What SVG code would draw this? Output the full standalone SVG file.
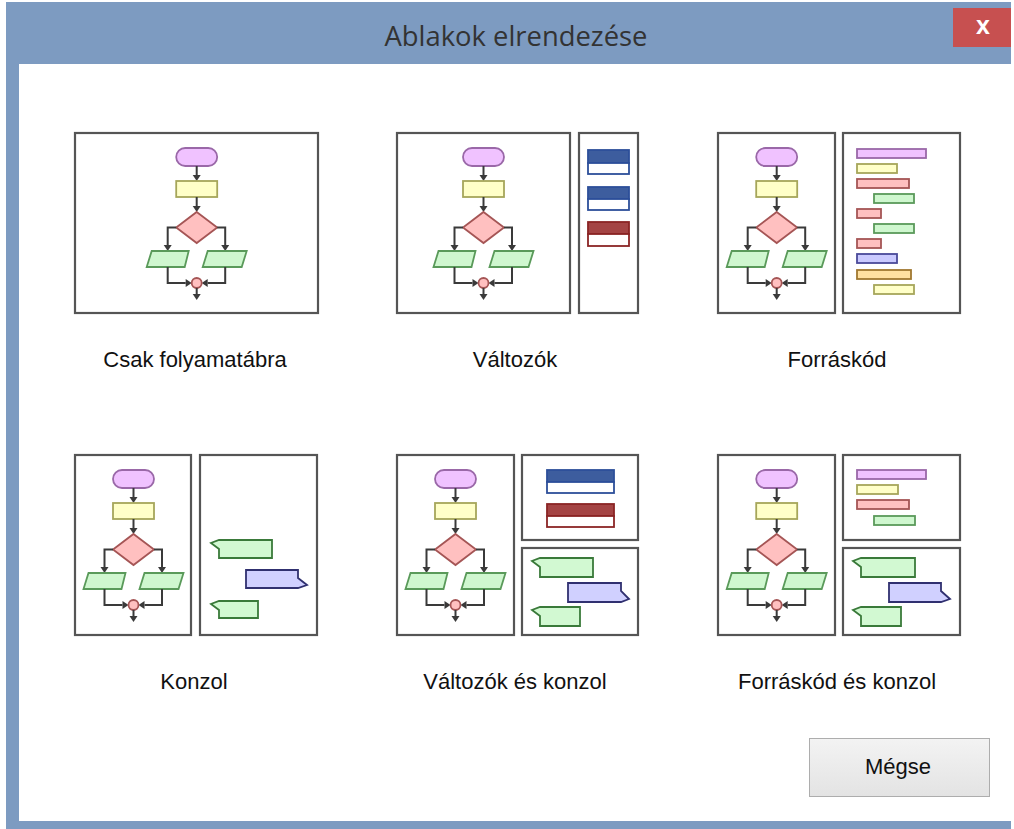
<svg xmlns="http://www.w3.org/2000/svg" xmlns:xlink="http://www.w3.org/1999/xlink" width="1014" height="829" viewBox="0 0 1014 829">
<style>
.frame{fill:#fff;stroke:#555;stroke-width:2.2}
.ln{fill:none;stroke:#3a3a3a;stroke-width:2}
.hd{fill:#3a3a3a}
.pu{fill:#f0c2ff;stroke:#9a68a8;stroke-width:1.8}
.ye{fill:#ffffc8;stroke:#a6a65a;stroke-width:1.8}
.re{fill:#ffc0c0;stroke:#a55555;stroke-width:1.8}
.gr{fill:#cff7cf;stroke:#5a9a5a;stroke-width:1.8}
.la{fill:#cacaff;stroke:#4a4a9a;stroke-width:1.8}
.or{fill:#ffe0a0;stroke:#a07830;stroke-width:1.8}
.bgr{fill:#d2f9d2;stroke:#3a7a3a;stroke-width:1.8}
.bbl{fill:#d0d0ff;stroke:#303070;stroke-width:1.8}
.vb{fill:#fff;stroke:#2d4f9a;stroke-width:1.8}
.vbh{fill:#3d5d9e;stroke:#2d4f9a;stroke-width:1.8}
.vr{fill:#fff;stroke:#8b2525;stroke-width:1.8}
.vrh{fill:#a44444;stroke:#8b2525;stroke-width:1.8}
.lbl{font-family:"Liberation Sans",Arial,sans-serif;font-size:22px;fill:#111;text-anchor:middle}
</style>
<defs>
<linearGradient id="btn" x1="0" y1="0" x2="0" y2="1">
<stop offset="0" stop-color="#f3f3f3"/><stop offset="1" stop-color="#e3e3e3"/>
</linearGradient>
<g id="fc">
<rect class="pu" x="-20.5" y="15" width="41" height="18" rx="9"/>
<line class="ln" x1="0" y1="33" x2="0" y2="43"/><polygon class="hd" points="-4,42 4,42 0,48"/>
<rect class="ye" x="-20.5" y="48" width="41" height="16"/>
<line class="ln" x1="0" y1="64" x2="0" y2="74"/><polygon class="hd" points="-4,73 4,73 0,79"/>
<polygon class="re" points="0,79 20.5,94.5 0,110 -20.5,94.5"/>
<polyline class="ln" points="-20.5,94.5 -29,94.5 -29,113"/><polygon class="hd" points="-33,112 -25,112 -29,118"/>
<polyline class="ln" points="20.5,94.5 28.5,94.5 28.5,113"/><polygon class="hd" points="24.5,112 32.5,112 28.5,118"/>
<polygon class="gr" points="-45,118 -8,118 -12,134 -50,134"/>
<polygon class="gr" points="11,118 50,118 45,134 6,134"/>
<polyline class="ln" points="-29,134 -29,150 -11,150"/><polygon class="hd" points="-11,146 -11,154 -5,150"/>
<polyline class="ln" points="28.5,134 28.5,150 11,150"/><polygon class="hd" points="11,146 11,154 5,150"/>
<circle class="re" cx="0" cy="150" r="5"/>
<line class="ln" x1="0" y1="155" x2="0" y2="162"/><polygon class="hd" points="-4,161 4,161 0,167"/>
</g>
</defs>

<rect width="1014" height="829" fill="#fff"/>
<g id="window">
<rect x="6" y="2" width="1005" height="827" fill="#7d9bc1"/>
<rect x="19" y="64" width="995" height="757" fill="#fff"/>
<text x="516" y="46" font-family="'Open Sans','Liberation Sans',sans-serif" font-size="27" fill="#333" text-anchor="middle" textLength="263" lengthAdjust="spacingAndGlyphs">Ablakok elrendezése</text>
<rect x="953" y="8" width="58" height="39" fill="#c75050"/>
<text x="983" y="34" font-family="'Liberation Sans',Arial,sans-serif" font-size="25" font-weight="bold" fill="#fff" text-anchor="middle">x</text>
</g>

<g id="opt-flowchart">
<rect class="frame" x="75" y="133" width="243" height="180"/>
<use xlink:href="#fc" transform="translate(196.7,133)"/>
<text class="lbl" x="195" y="367">Csak folyamatábra</text>
</g>

<g id="opt-variables">
<rect class="frame" x="397" y="133" width="173" height="180"/>
<use xlink:href="#fc" transform="translate(483.5,133)"/>
<rect class="frame" x="579" y="133" width="59" height="180"/>
<rect class="vbh" x="588" y="150" width="41" height="13"/><rect class="vb" x="588" y="163" width="41" height="11"/>
<rect class="vbh" x="588" y="187" width="41" height="12"/><rect class="vb" x="588" y="199" width="41" height="11"/>
<rect class="vrh" x="588" y="222" width="41" height="12"/><rect class="vr" x="588" y="234" width="41" height="12"/>
<text class="lbl" x="515" y="367">Változók</text>
</g>

<g id="opt-source">
<rect class="frame" x="718" y="133" width="117" height="180"/>
<use xlink:href="#fc" transform="translate(776.7,133)"/>
<rect class="frame" x="843" y="133" width="117" height="180"/>
<rect class="pu" x="857" y="149" width="69" height="9"/>
<rect class="ye" x="857" y="164" width="40" height="9"/>
<rect class="re" x="857" y="179" width="52" height="9"/>
<rect class="gr" x="874" y="194" width="40" height="9"/>
<rect class="re" x="857" y="209" width="24" height="9"/>
<rect class="gr" x="874" y="224" width="40" height="9"/>
<rect class="re" x="857" y="239" width="24" height="9"/>
<rect class="la" x="857" y="254" width="40" height="9"/>
<rect class="or" x="857" y="270" width="54" height="9"/>
<rect class="ye" x="874" y="285" width="40" height="9"/>
<text class="lbl" x="837" y="367">Forráskód</text>
</g>

<g id="opt-console">
<rect class="frame" x="75" y="455" width="116" height="180"/>
<use xlink:href="#fc" transform="translate(133.5,455)"/>
<rect class="frame" x="200" y="455" width="117" height="180"/>
<path class="bgr" d="M219,540 H272 V558 H219 V549 L211,543 Z"/>
<path class="bbl" d="M246,570 H298 V578 L307,585 L298,588 H246 Z"/>
<path class="bgr" d="M219,601 H258 V618 H219 V610 L211,604 Z"/>
<text class="lbl" x="194" y="689">Konzol</text>
</g>

<g id="opt-variables-console">
<rect class="frame" x="397" y="455" width="117" height="180"/>
<use xlink:href="#fc" transform="translate(455.5,455)"/>
<rect class="frame" x="522" y="455" width="116" height="85"/>
<rect class="vbh" x="547" y="470" width="67" height="12"/><rect class="vb" x="547" y="482" width="67" height="11"/>
<rect class="vrh" x="547" y="504" width="67" height="12"/><rect class="vr" x="547" y="516" width="67" height="11"/>
<rect class="frame" x="522" y="548" width="116" height="87"/>
<path class="bgr" d="M540,558 H593 V577 H540 V567 L532,561 Z"/>
<path class="bbl" d="M568,583 H621 V591 L629,599 L621,602 H568 Z"/>
<path class="bgr" d="M540,607 H580 V626 H540 V616 L532,610 Z"/>
<text class="lbl" x="515" y="689">Változók és konzol</text>
</g>

<g id="opt-source-console">
<rect class="frame" x="718" y="455" width="117" height="180"/>
<use xlink:href="#fc" transform="translate(776.7,455)"/>
<rect class="frame" x="843" y="455" width="117" height="85"/>
<rect class="pu" x="857" y="470" width="69" height="9"/>
<rect class="ye" x="857" y="485" width="41" height="9"/>
<rect class="re" x="857" y="500" width="52" height="9"/>
<rect class="gr" x="874" y="516" width="41" height="9"/>
<rect class="frame" x="843" y="548" width="117" height="87"/>
<path class="bgr" d="M861,558 H915 V577 H861 V567 L853,561 Z"/>
<path class="bbl" d="M889,583 H941 V591 L950,599 L941,602 H889 Z"/>
<path class="bgr" d="M861,607 H901 V626 H861 V616 L853,610 Z"/>
<text class="lbl" x="837" y="689">Forráskód és konzol</text>
</g>

<g id="btn-cancel">
<rect x="809.5" y="738.5" width="180" height="58" fill="url(#btn)" stroke="#adadad" stroke-width="1"/>
<text class="lbl" x="898" y="774">Mégse</text>
</g>
<g id="connectors"/>
</svg>
